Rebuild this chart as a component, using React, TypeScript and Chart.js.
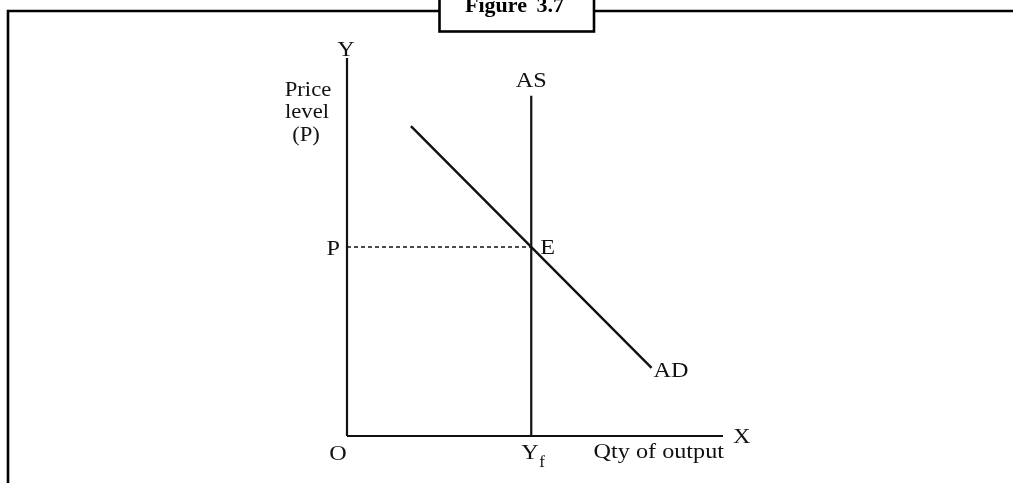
import React, { useEffect, useRef } from "react";
import { Chart, registerables } from "chart.js";

Chart.register(...registerables);

// Data (abstract units)
const xAxisRange = [0, 10];
const yAxisRange = [0, 10];
const asX = 4.9;
const asY = [0, 9.0];
const adX = [1.7, 8.1];
const adY = [8.2, 1.8];
const equilibriumP = 5.0;
const titleText = "Figure 3.7";
const yAxisTitle = ["Price", "level", "(P)"];
const xAxisTitle = "Qty of output";
const tickLabels = { origin: "O", yf: "Y", yfSub: "f", p: "P", e: "E" };
const curveLabels = { as: "AS", ad: "AD", xAxis: "X", yAxis: "Y" };

const W = 1013;
const H = 483;
const INK = "#111";
const FONT = "'Liberation Serif', 'Times New Roman', serif";
const SX = 1.1;

function drawText(
  ctx: CanvasRenderingContext2D,
  str: string,
  x: number,
  y: number,
  align: "left" | "center" | "right",
  size = 22,
  bold = false,
  sx = SX
) {
  ctx.save();
  ctx.font = `${bold ? "bold " : ""}${size}px ${FONT}`;
  ctx.textAlign = align;
  ctx.textBaseline = "alphabetic";
  ctx.translate(x, y);
  ctx.scale(sx, 1);
  ctx.fillText(str, 0, 0);
  ctx.restore();
}

const labelsPlugin = {
  id: "econLabels",
  afterDraw(chart: any) {
    const ctx = chart.ctx as CanvasRenderingContext2D;
    const xs = chart.scales.x;
    const ys = chart.scales.y;
    const px = (v: number) => xs.getPixelForValue(v);
    const py = (v: number) => ys.getPixelForValue(v);
    ctx.save();
    // frame
    ctx.strokeStyle = "#000";
    ctx.lineWidth = 2.6;
    ctx.beginPath();
    ctx.moveTo(8, H + 2);
    ctx.lineTo(8, 11);
    ctx.lineTo(W + 2, 11);
    ctx.stroke();
    // title box
    ctx.fillStyle = "#fff";
    ctx.fillRect(439.5, -5, 154.5, 36.5);
    ctx.strokeRect(439.5, -5, 154.5, 36.5);
    ctx.fillStyle = "#000";
    (ctx as any).wordSpacing = "4px";
    drawText(ctx, titleText, 465, 12, "left", 22, true, 1);
    (ctx as any).wordSpacing = "0px";

    ctx.fillStyle = INK;
    const x0 = px(0);
    const y0 = py(0);
    // Y label
    drawText(ctx, curveLabels.yAxis, x0 - 1, py(yAxisRange[1]) - 2, "center");
    // Price level (P)
    const ptx = x0 - 39;
    drawText(ctx, yAxisTitle[0], ptx, 96, "center", 22, false, 1.03);
    drawText(ctx, yAxisTitle[1], ptx - 1, 118, "center", 22, false, 1.03);
    drawText(ctx, yAxisTitle[2], ptx - 2, 141, "center", 22, false, 1.03);
    // AS
    drawText(ctx, curveLabels.as, px(asX), py(asY[1]) - 9, "center");
    // P tick
    drawText(ctx, tickLabels.p, x0 - 7, py(equilibriumP) + 8, "right");
    // E
    drawText(ctx, tickLabels.e, px(asX) + 9, py(equilibriumP) + 7, "left");
    // AD
    drawText(ctx, curveLabels.ad, px(adX[1]) + 2, py(adY[1]) + 9, "left");
    // X
    drawText(ctx, curveLabels.xAxis, px(xAxisRange[1]) + 10, y0 + 7, "left");
    // O
    drawText(ctx, tickLabels.origin, x0 - 9, y0 + 24, "center");
    // Yf
    drawText(ctx, tickLabels.yf, px(asX) - 10, y0 + 23, "left");
    drawText(ctx, tickLabels.yfSub, px(asX) + 8, y0 + 31, "left", 17, false, 1);
    // Qty of output
    drawText(ctx, xAxisTitle, px(xAxisRange[1]) + 1, y0 + 22, "right");
    ctx.restore();
  },
};

export default function App() {
  const ref = useRef<HTMLCanvasElement | null>(null);
  useEffect(() => {
    if (!ref.current) return;
    const line = (label: string, pts: { x: number; y: number }[], width = 2.2, dash: number[] = []) => ({
      label,
      data: pts,
      showLine: true,
      borderColor: INK,
      borderWidth: width,
      borderDash: dash,
      pointRadius: 0,
      clip: false,
    });
    const chart = new Chart(ref.current, {
      type: "scatter",
      data: {
        datasets: [
          line("Y axis", [
            { x: 0, y: yAxisRange[0] },
            { x: 0, y: yAxisRange[1] },
          ]),
          line("X axis", [
            { x: xAxisRange[0], y: 0 },
            { x: xAxisRange[1], y: 0 },
          ]),
          line("AS", [
            { x: asX, y: asY[0] },
            { x: asX, y: asY[1] },
          ]),
          line(
            "AD",
            [
              { x: adX[0], y: adY[0] },
              { x: adX[1], y: adY[1] },
            ],
            2.4
          ),
          line(
            "P",
            [
              { x: 0, y: equilibriumP },
              { x: asX, y: equilibriumP },
            ],
            1.6,
            [4, 3]
          ),
        ] as any,
      },
      options: {
        responsive: false,
        animation: false,
        devicePixelRatio: 1,
        layout: { padding: { left: 347, right: W - 723, top: 58, bottom: H - 436 } },
        plugins: { legend: { display: false }, tooltip: { enabled: false }, title: { display: false } },
        scales: {
          x: { type: "linear", min: xAxisRange[0], max: xAxisRange[1], display: false },
          y: { type: "linear", min: yAxisRange[0], max: yAxisRange[1], display: false },
        },
      },
      plugins: [labelsPlugin],
    });
    return () => chart.destroy();
  }, []);
  return (
    <canvas
      ref={ref}
      width={W}
      height={H}
      style={{ position: "fixed", left: 0, top: 0, width: W, height: H, background: "#fff" }}
    />
  );
}
